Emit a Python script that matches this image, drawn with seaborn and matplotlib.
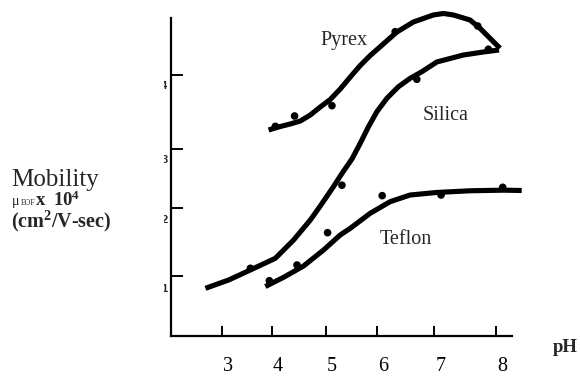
import numpy as np
import pandas as pd
import seaborn as sns
import matplotlib
matplotlib.use("Agg")
import matplotlib.pyplot as plt
from matplotlib.transforms import ScaledTranslation, Bbox, TransformedBbox

# ---------------- data ----------------
pyrex_ph = [3.849, 4.063, 4.245, 4.427, 4.609, 4.792, 4.974, 5.157, 5.339, 5.521,
            5.704, 5.886, 6.190, 6.493, 6.857, 7.040, 7.222, 7.526, 7.708, 7.890, 8.073]
pyrex_mu = [3.155, 3.208, 3.247, 3.292, 3.384, 3.507, 3.622, 3.783, 3.966, 4.142,
            4.296, 4.430, 4.655, 4.809, 4.916, 4.939, 4.916, 4.839, 4.712, 4.559, 4.406]

silica_ph = [2.696, 3.120, 3.516, 3.972, 4.305, 4.610, 4.792, 5.034, 5.193, 5.370,
             5.521, 5.672, 5.825, 6.008, 6.219, 6.432, 6.646, 6.919, 7.404, 7.769, 8.055]
silica_mu = [0.730, 0.858, 1.011, 1.190, 1.470, 1.776, 1.991, 2.289, 2.496, 2.711,
             2.951, 3.205, 3.435, 3.640, 3.818, 3.946, 4.047, 4.196, 4.303, 4.349, 4.380]

teflon_ph = [3.789, 4.123, 4.487, 4.852, 5.156, 5.339, 5.703, 6.068, 6.432, 6.919,
             7.526, 8.133, 8.468]
teflon_mu = [0.758, 0.899, 1.072, 1.317, 1.547, 1.649, 1.879, 2.057, 2.159, 2.198,
             2.224, 2.233, 2.228]

pyrex_pts_ph = [3.972, 4.323, 5.005, 6.159, 7.666, 7.860]
pyrex_pts_mu = [3.211, 3.369, 3.527, 4.660, 4.747, 4.391]
silica_pts_ph = [3.516, 5.187, 6.554]
silica_pts_mu = [1.037, 2.309, 3.931]
teflon_pts_ph = [3.862, 4.367, 4.925, 5.922, 6.997, 8.122]
teflon_pts_mu = [0.847, 1.087, 1.582, 2.149, 2.159, 2.277]

x_tick_pos = [3.0, 3.911, 4.896, 5.836, 6.875, 8.0]
x_tick_labels = ["3", "4", "5", "6", "7", "8"]
y_tick_pos = [0.919, 1.965, 2.859, 4.0]
y_tick_labels = ["1", "2", "3", "4"]

# ---------------- styling ----------------
sns.set_style("ticks")
plt.rcParams["font.family"] = ["Liberation Serif", "DejaVu Serif"]
plt.rcParams["mathtext.fontset"] = "custom"
plt.rcParams["mathtext.rm"] = "Liberation Serif"
plt.rcParams["mathtext.bf"] = "Liberation Serif:bold"
plt.rcParams["mathtext.it"] = "Liberation Serif:italic"

W, H, DPI = 580, 376, 100
fig = plt.figure(figsize=(W / DPI, H / DPI), dpi=DPI)
ax_l, ax_r, ax_t, ax_b = 170.5, 511.7, 18.3, 336.0
ax = fig.add_axes([ax_l / W, 1 - ax_b / H, (ax_r - ax_l) / W, (ax_b - ax_t) / H])

curves = pd.concat([
    pd.DataFrame({"pH": pyrex_ph, "mu": pyrex_mu, "s": "Pyrex"}),
    pd.DataFrame({"pH": silica_ph, "mu": silica_mu, "s": "Silica"}),
    pd.DataFrame({"pH": teflon_ph, "mu": teflon_mu, "s": "Teflon"}),
])
points = pd.concat([
    pd.DataFrame({"pH": pyrex_pts_ph, "mu": pyrex_pts_mu, "s": "Pyrex"}),
    pd.DataFrame({"pH": silica_pts_ph, "mu": silica_pts_mu, "s": "Silica"}),
    pd.DataFrame({"pH": teflon_pts_ph, "mu": teflon_pts_mu, "s": "Teflon"}),
])

for name, g in curves.groupby("s"):
    sns.lineplot(data=g, x="pH", y="mu", sort=False, color="black", linewidth=3.7,
                 ax=ax, legend=False, clip_on=False, solid_capstyle="butt",
                 solid_joinstyle="round")
sns.scatterplot(data=points, x="pH", y="mu", color="black", s=30, edgecolor="none",
                ax=ax, legend=False, clip_on=False, zorder=5)

ax.set_xlim(2.058, 8.286)
ax.set_ylim(0, 4.865)
for side in ["top", "right"]:
    ax.spines[side].set_visible(False)
for side in ["left", "bottom"]:
    ax.spines[side].set_linewidth(1.6)
    ax.spines[side].set_color("black")

ax.set_xticks(x_tick_pos, labels=x_tick_labels)
ax.set_yticks(y_tick_pos, labels=[""] * len(y_tick_pos))
ax.tick_params(axis="x", direction="in", length=7.2, width=1.4, pad=15,
               labelsize=14.5, colors="black")
ax.tick_params(axis="y", direction="in", length=8.6, width=1.4, colors="black")
off = ScaledTranslation(6 / DPI, 0, fig.dpi_scale_trans)
for lab in ax.get_xticklabels():
    lab.set_transform(lab.get_transform() + off)
ax.set_xlabel("")
ax.set_ylabel("")

def fx(px):
    return px / W

def fy(py):
    return 1 - py / H

# y tick labels, cut off at the left as in the original
clip = TransformedBbox(Bbox([[163.5 / W, 0], [170 / W, 1]]), fig.transFigure)
ylab_y = [289, 220, 160, 86]
for lab, py in zip(y_tick_labels, ylab_y):
    t = fig.text(fx(167.5), fy(py), lab, ha="right", va="center", fontsize=8,
                 fontweight="bold", family=["Liberation Sans", "DejaVu Sans"])
    t.set_clip_box(clip)
    t.set_clip_on(True)

# curve names
fig.text(fx(320), fy(41), "Pyrex", fontsize=14.5, ha="left", va="center")
fig.text(fx(423), fy(115), "Silica", fontsize=14.5, ha="left", va="center")
fig.text(fx(380), fy(240), "Teflon", fontsize=14.5, ha="left", va="center")
fig.text(fx(553), fy(348), "pH", fontsize=13.5, fontweight="bold", ha="left", va="center")

# y axis title
fig.text(fx(11), fy(186), "Mobility", fontsize=18, ha="left", va="baseline")
fig.text(fx(12), fy(205), "μ", fontsize=10, ha="left", va="baseline")
fig.text(fx(20.5), fy(205), "EOF", fontsize=5.5, ha="left", va="baseline")
fig.text(fx(36), fy(205), "x", fontsize=13.5, fontweight="bold", ha="left", va="baseline")
fig.text(fx(53), fy(206), r"10$^{\mathbf{4}}$", fontsize=13.5, fontweight="bold",
         ha="left", va="baseline")
fig.text(fx(11), fy(227), r"(cm$^{\mathbf{2}}$/V-sec)", fontsize=14.5, fontweight="bold",
         ha="left", va="baseline")

fig.savefig("out.png", dpi=DPI)
